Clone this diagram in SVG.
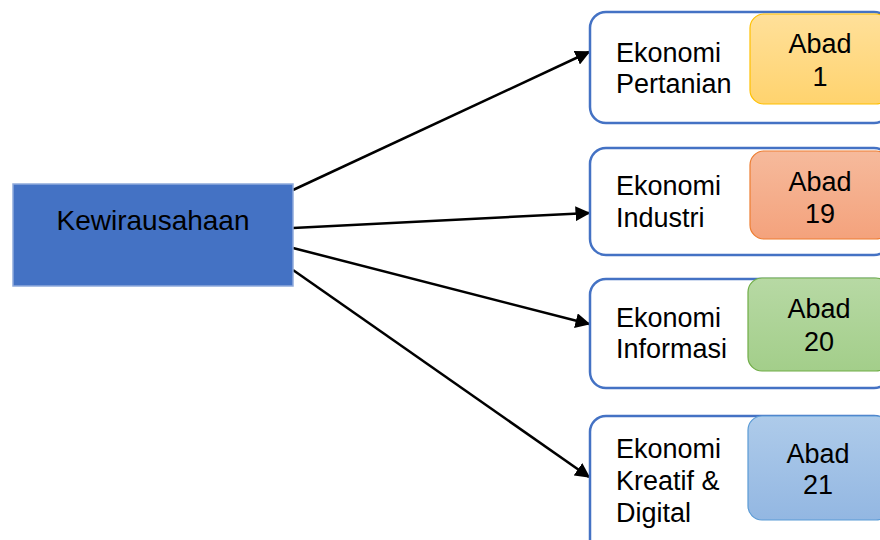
<svg xmlns="http://www.w3.org/2000/svg" width="880" height="540" viewBox="0 0 880 540">
<defs>
<style>
.t{font-family:"Liberation Sans",Arial,sans-serif;font-size:27px;fill:#000}
.c{text-anchor:middle}
.outer{fill:#fff;stroke:#4472C4;stroke-width:2.5}
.conn{stroke:#000;stroke-width:2.5;fill:none;marker-end:url(#ah)}
</style>
<marker id="ah" viewBox="0 0 10 10" refX="9" refY="5" markerWidth="6" markerHeight="6" markerUnits="strokeWidth" orient="auto">
<path d="M0,0 L10,5 L0,10 z" fill="#000"/>
</marker>
<linearGradient id="gy" x1="0" y1="0" x2="0" y2="1"><stop offset="0" stop-color="#FFE09A"/><stop offset="1" stop-color="#FFD36E"/></linearGradient>
<linearGradient id="go" x1="0" y1="0" x2="0" y2="1"><stop offset="0" stop-color="#F6BA9C"/><stop offset="1" stop-color="#F4A27C"/></linearGradient>
<linearGradient id="gg" x1="0" y1="0" x2="0" y2="1"><stop offset="0" stop-color="#B7D9A4"/><stop offset="1" stop-color="#A3CE8A"/></linearGradient>
<linearGradient id="gb" x1="0" y1="0" x2="0" y2="1"><stop offset="0" stop-color="#AECBEA"/><stop offset="1" stop-color="#93B7E2"/></linearGradient>
</defs>
<rect width="880" height="540" fill="#fff"/>
<g id="connectors">
<line class="conn" x1="293" y1="190" x2="589" y2="52"/>
<line class="conn" x1="293" y1="228" x2="589" y2="213"/>
<line class="conn" x1="293" y1="248" x2="589" y2="324"/>
<line class="conn" x1="293" y1="270" x2="589" y2="477"/>
</g>
<g id="kewirausahaan">
<rect x="13" y="184" width="280" height="102" fill="#4472C4" stroke="#8FAADC" stroke-width="1.5"/>
<text class="t c" x="153" y="230" style="font-size:28px">Kewirausahaan</text>
</g>
<g id="pertanian">
<rect class="outer" x="590" y="12" width="300" height="111" rx="16"/>
<rect x="750" y="14" width="140" height="90" rx="14" fill="url(#gy)" stroke="#FFC000" stroke-width="1.2"/>
<text class="t" x="616" y="62">Ekonomi</text>
<text class="t" x="616" y="93">Pertanian</text>
<text class="t c" x="820" y="53">Abad</text>
<text class="t c" x="820" y="86">1</text>
</g>
<g id="industri">
<rect class="outer" x="590" y="148" width="300" height="107" rx="16"/>
<rect x="750" y="151" width="140" height="88" rx="14" fill="url(#go)" stroke="#ED7D31" stroke-width="1.2"/>
<text class="t" x="616" y="195">Ekonomi</text>
<text class="t" x="616" y="227">Industri</text>
<text class="t c" x="820" y="191">Abad</text>
<text class="t c" x="820" y="223">19</text>
</g>
<g id="informasi">
<rect class="outer" x="590" y="279" width="300" height="109" rx="16"/>
<rect x="748" y="278" width="142" height="93" rx="14" fill="url(#gg)" stroke="#70AD47" stroke-width="1.2"/>
<text class="t" x="616" y="327">Ekonomi</text>
<text class="t" x="616" y="358">Informasi</text>
<text class="t c" x="819" y="318">Abad</text>
<text class="t c" x="819" y="351">20</text>
</g>
<g id="kreatif">
<rect class="outer" x="590" y="416" width="300" height="140" rx="16"/>
<rect x="748" y="416" width="142" height="104" rx="14" fill="url(#gb)" stroke="#5B9BD5" stroke-width="1.2"/>
<text class="t" x="616" y="458">Ekonomi</text>
<text class="t" x="616" y="490">Kreatif &amp;</text>
<text class="t" x="616" y="522">Digital</text>
<text class="t c" x="818" y="463">Abad</text>
<text class="t c" x="818" y="494">21</text>
</g>
</svg>
